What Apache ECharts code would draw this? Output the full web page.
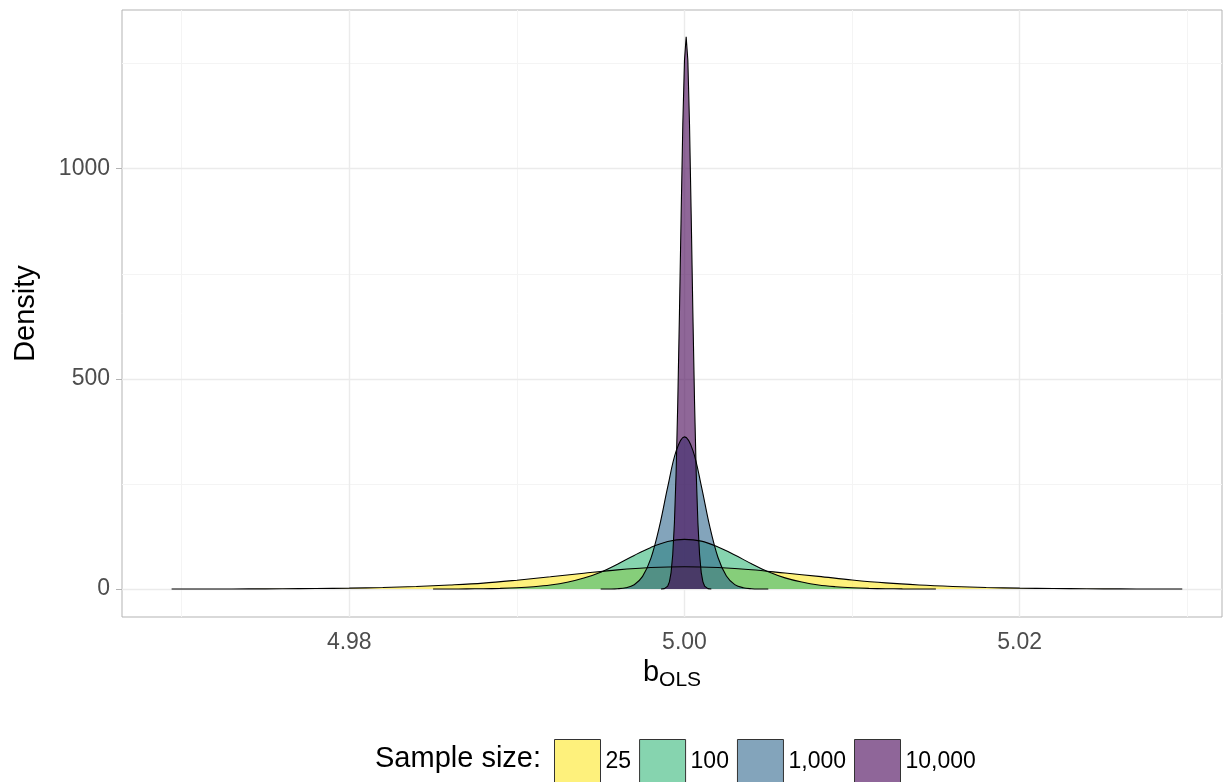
<!DOCTYPE html>
<html>
<head>
<meta charset="utf-8">
<title>Sampling distribution of b_OLS</title>
<script src="https://cdn.jsdelivr.net/npm/echarts@6.0.0/dist/echarts.min.js"></script>
<style>
html, body { margin: 0; padding: 0; background: #fff; }
#main { width: 1226px; height: 782px; }
</style>
</head>
<body>
<div id="main"></div>
<script>
// legend entries (sample size)
var sizeLabels = ['25', '100', '1,000', '10,000'];

// density of b_OLS, n = 25
var n25X = [4.9694, 4.972, 4.974, 4.976, 4.978, 4.980, 4.982, 4.984, 4.986, 4.988, 4.990,
            4.992, 4.994, 4.996, 4.998, 5.000, 5.002, 5.004, 5.006, 5.008, 5.010,
            5.012, 5.014, 5.016, 5.018, 5.020, 5.022, 5.024, 5.026, 5.028, 5.0297];
var n25Y = [0, 0.1, 0.3, 0.6, 1.1, 2, 3.6, 6, 9.5, 14, 21,
            29, 37.5, 45.5, 51, 53, 51, 46, 38, 30, 21.5,
            14.5, 9.5, 6, 3.5, 2, 1.1, 0.6, 0.3, 0.1, 0];

// n = 100
var n100X = [4.985, 4.986, 4.987, 4.988, 4.989, 4.990, 4.991, 4.992, 4.993, 4.994, 4.995,
             4.996, 4.997, 4.998, 4.999, 5.000, 5.001, 5.002, 5.003, 5.004, 5.005,
             5.006, 5.007, 5.008, 5.009, 5.010, 5.011, 5.012, 5.013, 5.014, 5.015];
var n100Y = [0, 0.1, 0.3, 0.7, 1.5, 3, 5.5, 9.5, 16, 26, 40,
             59, 80, 99, 113, 118, 114, 100, 81, 60, 41,
             26.5, 16.5, 9.5, 5.5, 3, 1.5, 0.7, 0.3, 0.1, 0];

// n = 1,000
var n1000X = [4.9950, 4.9955, 4.9960, 4.9965, 4.9970, 4.9975, 4.9980, 4.9985, 4.9990, 4.9995, 5.0000,
              5.0005, 5.0010, 5.0015, 5.0020, 5.0025, 5.0030, 5.0035, 5.0040, 5.0045, 5.0050];
var n1000Y = [0, 0.1, 0.6, 2.8, 10, 30, 73.5, 148, 243, 328, 362,
              330, 246, 150, 75, 31, 10.5, 3, 0.7, 0.1, 0];

// n = 10,000
var n10000X = [4.9986, 4.9987, 4.9988, 4.9989, 4.9990, 4.9991, 4.9992, 4.9993, 4.9994, 4.9995, 4.9996,
               4.9997, 4.9998, 4.9999, 5.0000, 5.0001, 5.0002, 5.0003, 5.0004, 5.0005, 5.0006,
               5.0007, 5.0008, 5.0009, 5.0010, 5.0011, 5.0012, 5.0013, 5.0014, 5.0015, 5.0016];
var n10000Y = [0, 0.2, 0.9, 2.6, 7, 17, 39, 82, 158, 276, 445,
               657, 890, 1105, 1258, 1314, 1258, 1105, 890, 657, 445,
               276, 158, 82, 39, 17, 7, 2.6, 0.9, 0.2, 0];

// axis ticks
var xTicks = [4.98, 5.00, 5.02];
var xMinor = [4.97, 4.99, 5.01, 5.03];
var yTicks = [0, 500, 1000];
var yMinor = [250, 750, 1250];

var FONT = '"Liberation Sans", Arial, Helvetica, sans-serif';
var fills = ['#FDE725', '#35B779', '#31688E', '#440154'];
var keyFills = ['#FEF17C', '#86D4AF', '#83A4BB', '#8F6699'];

function zip(xs, ys) {
    return xs.map(function (x, i) { return [x, ys[i]]; });
}

function densitySeries(name, xs, ys, color, smooth) {
    return {
        name: name,
        type: 'line',
        data: zip(xs, ys),
        smooth: smooth,
        symbol: 'none',
        silent: true,
        color: color,
        lineStyle: { color: '#000', width: 1.1 },
        areaStyle: { color: color, opacity: 0.6 },
        z: 3
    };
}

var gridLines = [];
xMinor.forEach(function (v) { gridLines.push({ xAxis: v, lineStyle: { color: '#F4F4F4', width: 1 } }); });
yMinor.forEach(function (v) { gridLines.push({ yAxis: v, lineStyle: { color: '#F4F4F4', width: 1 } }); });
xTicks.forEach(function (v) { gridLines.push({ xAxis: v, lineStyle: { color: '#EBEBEB', width: 1.4 } }); });
yTicks.forEach(function (v) { gridLines.push({ yAxis: v, lineStyle: { color: '#EBEBEB', width: 1.4 } }); });

var myChart = echarts.init(document.getElementById('main'));

var option = {
    animation: false,
    textStyle: { fontFamily: FONT },
    title: {
        text: 'Sample size:',
        left: 375,
        top: 744,
        padding: 0,
        textStyle: { fontFamily: FONT, fontSize: 29, fontWeight: 'normal', color: '#000' }
    },
    legend: {
        left: 554,
        top: 739,
        padding: 0,
        itemGap: 8,
        itemWidth: 46,
        itemHeight: 45,
        selectedMode: false,
        textStyle: { fontFamily: FONT, fontSize: 23, color: '#000' },
        data: sizeLabels.map(function (s, i) {
            return {
                name: s,
                icon: 'rect',
                itemStyle: { color: keyFills[i], borderColor: '#333', borderWidth: 1 }
            };
        })
    },
    grid: {
        left: 122,
        right: 4,
        top: 10,
        bottom: 165,
        show: true,
        borderColor: '#B3B3B3',
        borderWidth: 1,
        backgroundColor: 'transparent'
    },
    xAxis: {
        type: 'value',
        min: 4.96644,
        max: 5.03207,
        name: '{b|b}{s|OLS}',
        nameLocation: 'middle',
        nameGap: 38,
        nameMoveOverlap: false,
        nameTextStyle: {
            rich: {
                b: { fontFamily: FONT, fontSize: 29, color: '#000', lineHeight: 36, verticalAlign: 'middle' },
                s: { fontFamily: FONT, fontSize: 21, color: '#000', lineHeight: 20, verticalAlign: 'bottom' }
            }
        },
        axisLine: { show: false },
        axisTick: { show: true, length: 6, lineStyle: { color: '#B3B3B3' }, customValues: xTicks },
        axisLabel: {
            customValues: xTicks,
            margin: 14,
            fontFamily: FONT,
            fontSize: 23,
            color: '#4D4D4D',
            formatter: function (v) { return v.toFixed(2); }
        },
        splitLine: { show: false }
    },
    yAxis: {
        type: 'value',
        min: -66.6,
        max: 1377.6,
        name: 'Density',
        nameLocation: 'middle',
        nameGap: 82,
        nameMoveOverlap: false,
        nameTextStyle: { fontFamily: FONT, fontSize: 29, color: '#000' },
        axisLine: { show: false },
        axisTick: { show: true, length: 6, lineStyle: { color: '#B3B3B3' }, customValues: yTicks },
        axisLabel: {
            customValues: yTicks,
            margin: 12,
            fontFamily: FONT,
            fontSize: 23,
            color: '#4D4D4D',
            formatter: function (v) { return String(v); }
        },
        splitLine: { show: false }
    },
    series: [
        {
            name: 'grid',
            type: 'line',
            data: [],
            silent: true,
            z: 1,
            markLine: {
                silent: true,
                symbol: 'none',
                z: 1,
                animation: false,
                label: { show: false },
                lineStyle: { type: 'solid' },
                data: gridLines
            }
        },
        densitySeries('25', n25X, n25Y, fills[0], 0.35),
        densitySeries('100', n100X, n100Y, fills[1], 0.35),
        densitySeries('1,000', n1000X, n1000Y, fills[2], 0.35),
        densitySeries('10,000', n10000X, n10000Y, fills[3], false)
    ]
};

myChart.setOption(option);
</script>
</body>
</html>
